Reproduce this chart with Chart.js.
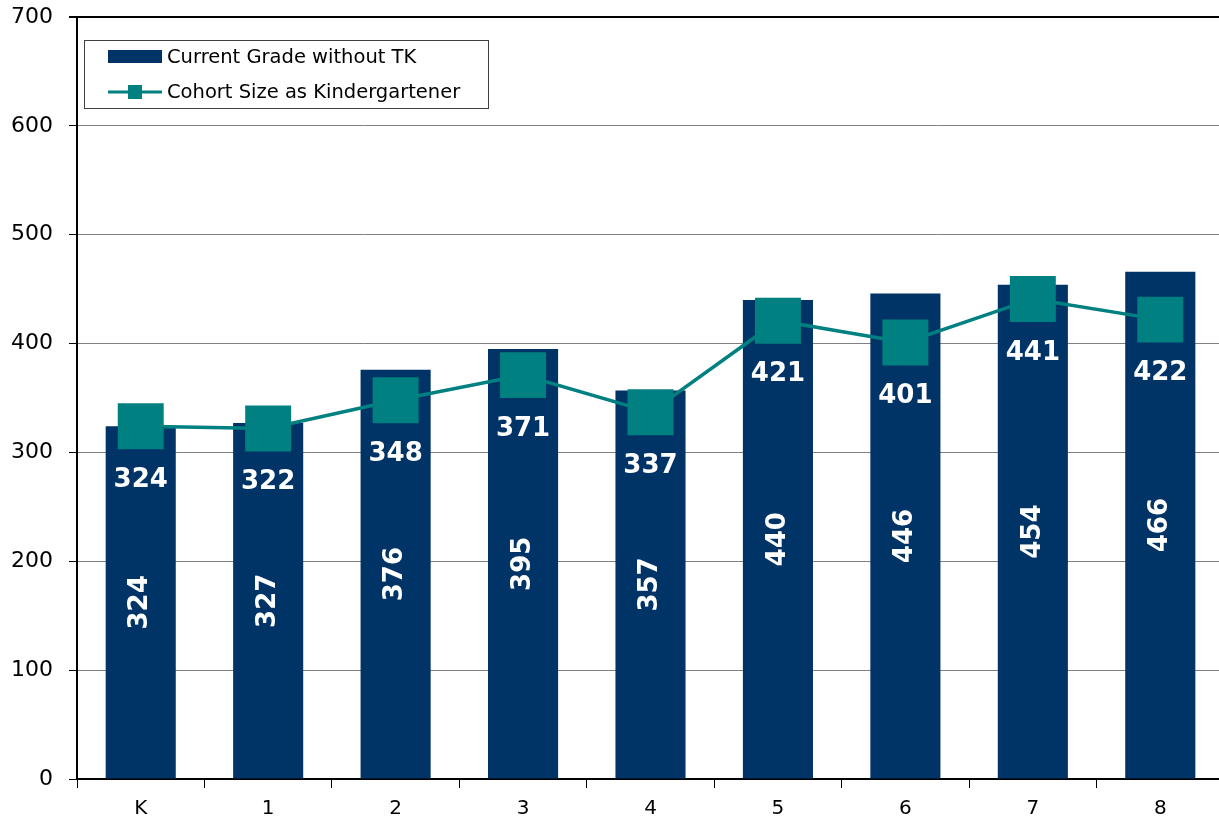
<!DOCTYPE html>
<html>
<head>
<meta charset="utf-8">
<script src="https://cdn.jsdelivr.net/npm/chart.js@4.4.1/dist/chart.umd.min.js"></script>
<style>
  html, body { margin:0; padding:0; background:#fff; overflow:hidden; }
  #wrap { width:1224px; height:823px; position:relative; }
  canvas { display:block; }
</style>
</head>
<body>
<div id="wrap"><canvas id="c" width="1224" height="823"></canvas></div>
<script>
const categories = ['K','1','2','3','4','5','6','7','8'];
const currentGrade = [324, 327, 376, 395, 357, 440, 446, 454, 466];
const cohortSize = [324, 322, 348, 371, 337, 421, 401, 441, 422];
const yTicks = [0, 100, 200, 300, 400, 500, 600, 700];
const seriesNames = ['Current Grade without TK', 'Cohort Size as Kindergartener'];

const FONT = "'DejaVu Sans', sans-serif";
const NAVY = '#003366';
const TEAL = '#008080';

const labelPlugin = {
  id: 'valueLabels',
  afterDatasetsDraw(chart) {
    const ctx = chart.ctx;
    ctx.save();
    ctx.fillStyle = '#fff';
    ctx.font = 'bold 26px ' + FONT;
    ctx.textAlign = 'center';
    ctx.textBaseline = 'middle';
    const barMeta = chart.getDatasetMeta(0);
    barMeta.data.forEach((el, i) => {
      const cy = (el.y + el.base) / 2;
      ctx.save();
      ctx.translate(el.x, cy);
      ctx.rotate(-Math.PI / 2);
      ctx.fillText(String(chart.data.datasets[0].data[i]), 0, 0);
      ctx.restore();
    });
    const lineMeta = chart.getDatasetMeta(1);
    lineMeta.data.forEach((el, i) => {
      ctx.fillText(String(chart.data.datasets[1].data[i]), el.x, el.y + 54);
    });
    ctx.restore();
  },
  afterDraw(chart) {
    const ctx = chart.ctx;
    ctx.save();
    const bx = 84.5, by = 40.5, bw = 404, bh = 68;
    ctx.fillStyle = '#fff';
    ctx.fillRect(bx, by, bw, bh);
    ctx.strokeStyle = '#404040';
    ctx.lineWidth = 1;
    ctx.strokeRect(bx, by, bw, bh);
    ctx.fillStyle = NAVY;
    ctx.fillRect(108, 50, 54, 13);
    ctx.strokeStyle = TEAL;
    ctx.lineWidth = 3;
    ctx.beginPath();
    ctx.moveTo(108, 92);
    ctx.lineTo(162, 92);
    ctx.stroke();
    ctx.fillStyle = TEAL;
    ctx.fillRect(128, 85, 14, 14);
    ctx.fillStyle = '#000';
    ctx.font = '19.5px ' + FONT;
    ctx.textAlign = 'left';
    ctx.textBaseline = 'middle';
    ctx.fillText(chart.data.datasets[0].label, 167, 58);
    ctx.fillText(chart.data.datasets[1].label, 167, 93);
    ctx.restore();
  }
};

new Chart(document.getElementById('c'), {
  data: {
    labels: categories,
    datasets: [
      {
        type: 'bar',
        label: seriesNames[0],
        data: currentGrade,
        backgroundColor: NAVY,
        borderWidth: 0,
        categoryPercentage: 1,
        barPercentage: 0.55,
        order: 1
      },
      {
        type: 'line',
        label: seriesNames[1],
        data: cohortSize,
        borderColor: TEAL,
        backgroundColor: TEAL,
        borderWidth: 3.5,
        pointStyle: 'rect',
        pointRadius: 32.5,
        pointHoverRadius: 32.5,
        pointBorderWidth: 0,
        clip: false,
        order: 0
      }
    ]
  },
  plugins: [labelPlugin],
  options: {
    responsive: false,
    animation: false,
    devicePixelRatio: 1,
    layout: { autoPadding: false, padding: { top: 17, right: 0, left: 0, bottom: 0 } },
    plugins: {
      legend: { display: false },
      tooltip: { enabled: false }
    },
    scales: {
      x: {
        grid: {
          offset: true,
          drawOnChartArea: false,
          drawTicks: true,
          tickLength: 9,
          color: '#000',
          lineWidth: 1
        },
        border: { color: '#000', width: 2 },
        ticks: { color: '#000', font: { family: FONT, size: 20 }, padding: 9 },
        afterFit(scale) { scale.height = 44; scale.paddingLeft = 0; scale.paddingRight = 0; }
      },
      y: {
        min: 0,
        max: 700,
        afterBuildTicks(scale) { scale.ticks = yTicks.map(v => ({ value: v })); },
        grid: {
          color: ctx => (ctx.tick && ctx.tick.value === 700) ? '#000' : '#808080',
          lineWidth: ctx => (ctx.tick && ctx.tick.value === 700) ? 2 : 1,
          tickColor: '#000',
          tickLength: 8
        },
        border: { color: '#000', width: 2 },
        ticks: { color: '#000', font: { family: FONT, size: 22 }, padding: 16 },
        afterFit(scale) { scale.width = 77; scale.paddingTop = 0; scale.paddingBottom = 0; }
      }
    }
  }
});
</script>
</body>
</html>
